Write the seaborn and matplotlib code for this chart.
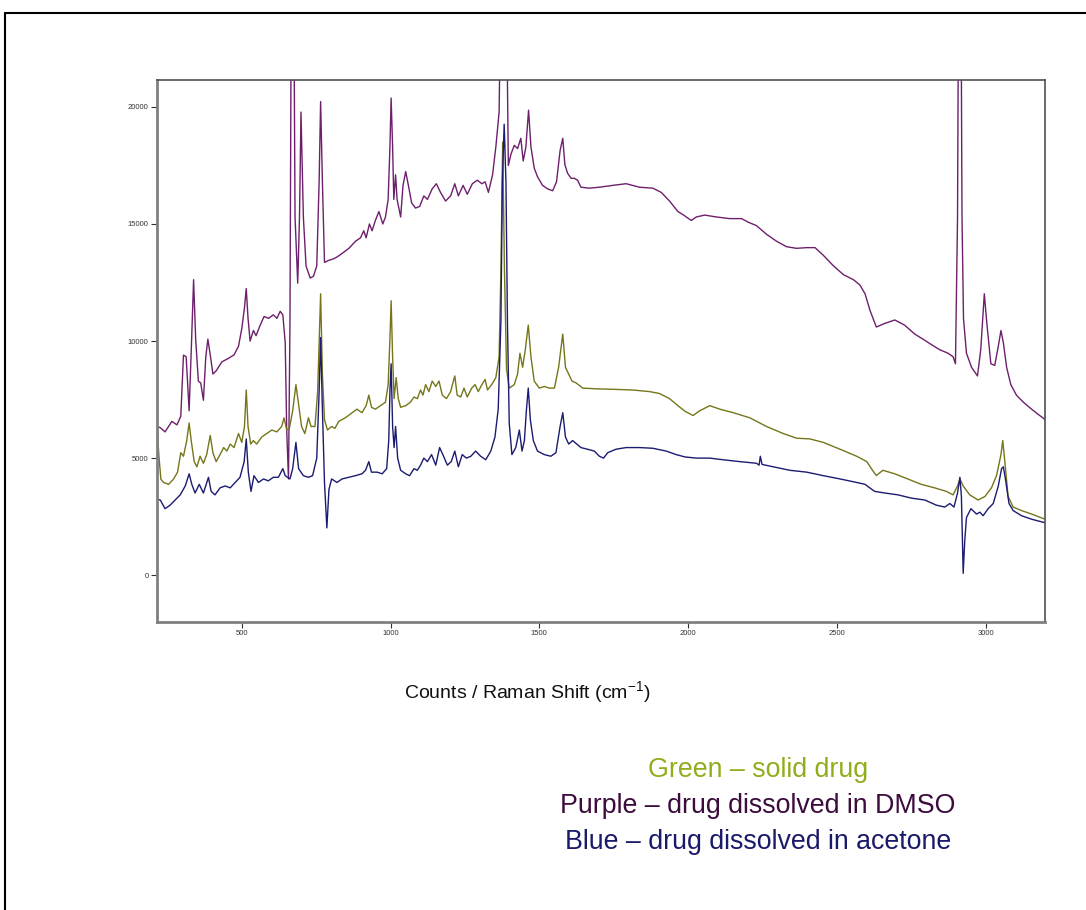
import numpy as np
import pandas as pd
import matplotlib
matplotlib.use("Agg")
import matplotlib.pyplot as plt
from matplotlib.lines import Line2D
import seaborn as sns

# ---------------- data ----------------
purple_x = [215, 226, 242, 265, 282, 295, 304, 313, 323, 331, 338, 345, 354, 362, 371, 379, 386, 394, 403, 414,
            433, 455, 474, 489, 500, 509, 515, 521, 528, 539, 548, 562, 575, 590, 606, 618, 629, 638, 646, 651,
            657, 662, 667, 674, 679, 688, 694, 699, 707, 716, 730, 741, 752, 760, 765, 771, 778, 791, 808, 820,
            837, 860, 882, 899, 910, 918, 929, 938, 949, 961, 974, 983, 992, 998, 1002, 1007, 1011, 1017, 1022, 1034,
            1042, 1051, 1060, 1071, 1084, 1098, 1112, 1124, 1140, 1154, 1168, 1185, 1202, 1216, 1228, 1244, 1258, 1275, 1292, 1307,
            1318, 1329, 1343, 1354, 1365, 1373, 1388, 1396, 1405, 1416, 1427, 1438, 1446, 1455, 1464, 1472, 1483, 1494, 1511, 1528,
            1545, 1558, 1570, 1579, 1586, 1595, 1607, 1618, 1629, 1640, 1668, 1702, 1747, 1792, 1837, 1882, 1910, 1938, 1966, 1983,
            2011, 2028, 2056, 2095, 2140, 2180, 2202, 2230, 2264, 2298, 2331, 2365, 2399, 2427, 2455, 2489, 2522, 2556, 2578, 2595,
            2612, 2633, 2661, 2695, 2728, 2762, 2790, 2818, 2846, 2874, 2891, 2899, 2906, 2910, 2917, 2921, 2926, 2936, 2953, 2973,
            2984, 2996, 3004, 3018, 3031, 3043, 3052, 3060, 3071, 3085, 3104, 3127, 3155, 3177, 3200]
purple_y = [6350, 6300, 6120, 6570, 6420, 6790, 9400, 9330, 7020, 9930, 12620, 10080, 8290, 8210, 7470, 9330, 10080, 9410, 8590, 8730,
            9110, 9260, 9410, 9780, 10530, 11420, 12240, 10970, 10000, 10450, 10230, 10680, 11050, 10970, 11120, 10970, 11270, 11120, 9930, 6200,
            4110, 10820, 27000, 27000, 15300, 12470, 15300, 19780, 15300, 13210, 12690, 12770, 13210, 16800, 20230, 16800, 13360, 13440, 13510, 13590,
            13740, 13960, 14260, 14410, 14710, 14410, 15000, 14710, 15150, 15530, 15000, 15300, 16050, 18290, 20380, 18290, 16050, 17100, 16050, 15300,
            16650, 17240, 16650, 15900, 15680, 15750, 16200, 16050, 16500, 16720, 16350, 15980, 16200, 16720, 16200, 16650, 16270, 16720, 16870, 16720,
            16800, 16350, 17100, 18290, 19780, 27000, 27000, 17500, 17990, 18360, 18220, 18660, 17690, 18290, 19860, 18290, 17390, 17020, 16650, 16500,
            16420, 16800, 18140, 18660, 17540, 17170, 16950, 16950, 16870, 16570, 16530, 16570, 16650, 16720, 16570, 16530, 16350, 15980, 15530, 15400,
            15150, 15300, 15380, 15300, 15230, 15230, 15080, 14930, 14560, 14260, 14030, 13960, 13990, 13990, 13660, 13210, 12840, 12620, 12390, 12020,
            11300, 10600, 10750, 10900, 10680, 10300, 10080, 9850, 9630, 9480, 9330, 9030, 15300, 27000, 27000, 15300, 10970, 9480, 8880, 8510,
            9630, 12020, 10820, 9030, 8960, 9780, 10450, 9930, 8880, 8140, 7690, 7390, 7090, 6870, 6650]

green_x = [215, 222, 228, 237, 254, 271, 284, 295, 304, 315, 323, 330, 340, 349, 360, 371, 382, 394, 403, 414,
           427, 439, 450, 461, 474, 489, 500, 509, 515, 521, 530, 539, 550, 567, 584, 601, 618, 634, 642, 651,
           660, 671, 682, 690, 701, 712, 724, 733, 746, 755, 765, 771, 778, 788, 802, 813, 826, 848, 871, 887,
           904, 918, 927, 936, 949, 966, 983, 992, 998, 1002, 1007, 1012, 1019, 1026, 1034, 1051, 1067, 1079, 1090, 1101,
           1109, 1118, 1129, 1140, 1152, 1163, 1174, 1188, 1202, 1216, 1224, 1236, 1247, 1258, 1273, 1284, 1295, 1307, 1318, 1326,
           1340, 1354, 1365, 1371, 1377, 1383, 1390, 1399, 1416, 1427, 1435, 1444, 1453, 1463, 1472, 1483, 1500, 1517, 1534, 1551,
           1565, 1579, 1588, 1599, 1610, 1624, 1646, 1691, 1747, 1814, 1871, 1904, 1938, 1966, 1990, 2017, 2039, 2073, 2107, 2152,
           2208, 2264, 2320, 2365, 2410, 2455, 2511, 2567, 2601, 2618, 2633, 2655, 2695, 2739, 2784, 2829, 2868, 2891, 2906, 2914,
           2925, 2947, 2975, 2998, 3020, 3037, 3052, 3058, 3065, 3076, 3093, 3121, 3155, 3200]
green_y = [6300, 5000, 4100, 3960, 3880, 4110, 4400, 5230, 5080, 5750, 6500, 5750, 4850, 4630, 5080, 4780, 5150, 5970, 5230, 4850,
           5150, 5450, 5300, 5600, 5450, 6050, 5670, 6350, 7910, 6350, 5600, 5750, 5600, 5900, 6050, 6200, 6120, 6350, 6720, 6200,
           6270, 7020, 8140, 7390, 6350, 6050, 6720, 6350, 6350, 7840, 12020, 8590, 6640, 6200, 6350, 6270, 6570, 6720, 6940, 7090,
           6940, 7240, 7690, 7170, 7090, 7240, 7390, 8140, 10080, 11720, 9330, 7540, 8440, 7540, 7170, 7240, 7390, 7610, 7540, 7910,
           7690, 8140, 7840, 8290, 8060, 8290, 7690, 7540, 7840, 8510, 7690, 7610, 7990, 7610, 7990, 8140, 7840, 8140, 8360, 7910,
           8140, 8440, 9330, 13000, 18500, 13000, 8800, 7990, 8140, 8590, 9480, 8880, 9630, 10680, 9330, 8290, 7990, 8060, 7990, 7990,
           8880, 10300, 8880, 8590, 8290, 8210, 7990, 7960, 7940, 7910, 7840, 7760, 7540, 7240, 7000, 6820, 7020, 7240, 7090, 6940,
           6720, 6350, 6050, 5850, 5820, 5670, 5380, 5080, 4850, 4520, 4255, 4480, 4330, 4110, 3880, 3730, 3580, 3430, 3810, 4110,
           3810, 3430, 3210, 3360, 3730, 4250, 5150, 5750, 4850, 3360, 2910, 2760, 2610, 2390]

blue_x = [215, 226, 242, 259, 276, 293, 310, 323, 332, 343, 357, 371, 388, 397, 410, 427, 444, 461, 478, 494,
          508, 515, 522, 531, 541, 556, 573, 589, 606, 623, 638, 646, 654, 662, 671, 682, 691, 707, 724, 738,
          752, 760, 765, 771, 778, 786, 793, 802, 820, 837, 860, 882, 904, 916, 927, 936, 955, 972, 987, 994,
          998, 1002, 1007, 1012, 1017, 1024, 1034, 1051, 1064, 1079, 1090, 1101, 1112, 1124, 1138, 1152, 1165, 1176, 1191, 1204,
          1216, 1228, 1241, 1255, 1270, 1286, 1303, 1320, 1337, 1351, 1362, 1371, 1376, 1382, 1388, 1393, 1399, 1408, 1421, 1433,
          1442, 1450, 1457, 1463, 1470, 1480, 1494, 1517, 1539, 1556, 1570, 1579, 1588, 1599, 1612, 1626, 1640, 1662, 1685, 1702,
          1716, 1730, 1758, 1792, 1837, 1882, 1927, 1960, 1990, 2028, 2073, 2118, 2174, 2230, 2239, 2243, 2249, 2286, 2342, 2399,
          2455, 2511, 2567, 2595, 2627, 2661, 2706, 2751, 2796, 2835, 2863, 2880, 2894, 2906, 2914, 2919, 2925, 2930, 2936, 2951,
          2970, 2981, 2992, 3009, 3026, 3043, 3054, 3060, 3067, 3079, 3093, 3121, 3155, 3200]
blue_y = [3250, 3210, 2840, 2990, 3210, 3430, 3810, 4330, 3880, 3510, 3880, 3510, 4180, 3580, 3430, 3730, 3810, 3730, 3960, 4180,
          4850, 5820, 4400, 3580, 4250, 3960, 4110, 4030, 4180, 4180, 4550, 4250, 4180, 4110, 4550, 5670, 4550, 4250, 4180, 4250,
          5000, 7840, 10150, 7090, 3960, 2020, 3660, 4110, 3960, 4110, 4180, 4250, 4330, 4480, 4850, 4400, 4400, 4330, 4550, 5750,
          7840, 9030, 6350, 5450, 6350, 5000, 4480, 4330, 4250, 4550, 4480, 4700, 5000, 4850, 5150, 4700, 5450, 5150, 4700, 4850,
          5300, 4630, 5150, 5000, 5080, 5300, 5080, 4930, 5300, 5900, 7090, 10820, 16800, 19260, 16800, 10820, 6500, 5150, 5450, 6200,
          5300, 5750, 7090, 7990, 6640, 5750, 5300, 5150, 5080, 5230, 6350, 6940, 5900, 5600, 5750, 5600, 5450, 5380, 5300, 5080,
          5000, 5230, 5380, 5450, 5450, 5420, 5300, 5150, 5050, 5000, 5000, 4930, 4850, 4780, 4700, 5080, 4730, 4630, 4480, 4400,
          4250, 4110, 3960, 3880, 3580, 3510, 3430, 3290, 3210, 2990, 2910, 3060, 2910, 3510, 4180, 3360, 80, 1420, 2460, 2840,
          2610, 2690, 2540, 2840, 3060, 3810, 4550, 4630, 4110, 3060, 2760, 2540, 2390, 2240]

series_names = ["Green \u2013 solid drug",
                "Purple \u2013 drug dissolved in DMSO",
                "Blue \u2013 drug dissolved in acetone"]
y_ticks = [0, 5000, 10000, 15000, 20000]
x_ticks = [500, 1000, 1500, 2000, 2500, 3000]
x_label = "Counts / Raman Shift (cm$^{-1}$)"

line_colors = ["#75751a", "#6e1f6c", "#1b1b72"]
text_colors = ["#8fae1b", "#3c0c3c", "#1a1a6a"]

# ---------------- build table ----------------
frames = []
for name, xs, ys in [(series_names[1], purple_x, purple_y),
                     (series_names[0], green_x, green_y),
                     (series_names[2], blue_x, blue_y)]:
    frames.append(pd.DataFrame({"shift": xs, "counts": ys, "series": name}))
df = pd.concat(frames, ignore_index=True)

sns.set_theme(style="white")
plt.rcParams["font.family"] = ["Liberation Sans", "DejaVu Sans"]
plt.rcParams["mathtext.fontset"] = "custom"
plt.rcParams["mathtext.rm"] = "Liberation Sans"
plt.rcParams["mathtext.it"] = "Liberation Sans"

fig = plt.figure(figsize=(10.86, 9.10), dpi=100)
fig.patch.set_facecolor("white")
ax = fig.add_axes([157 / 1086, 1 - 622 / 910, (1045 - 157) / 1086, (622 - 80) / 910])

palette = {series_names[0]: line_colors[0],
           series_names[1]: line_colors[1],
           series_names[2]: line_colors[2]}
sns.lineplot(data=df, x="shift", y="counts", hue="series", palette=palette,
             estimator=None, sort=False, linewidth=1.0, legend=False, ax=ax)

ax.set_xlim(215, 3200)
ax.set_ylim(-2000, 21150)
ax.set_xticks(x_ticks)
ax.set_yticks(y_ticks)
ax.set_xticklabels([str(v) for v in x_ticks])
ax.set_yticklabels([str(v) for v in y_ticks])
ax.tick_params(axis="both", which="major", labelsize=5.5, colors="#333333",
               length=4, width=0.8, direction="out", bottom=True, left=True, pad=2)
ax.set_xlabel("")
ax.set_ylabel("")
for side in ["left", "bottom"]:
    ax.spines[side].set_color("#808080")
    ax.spines[side].set_linewidth(2.0)
for side in ["top", "right"]:
    ax.spines[side].set_color("#505050")
    ax.spines[side].set_linewidth(1.2)
ax.set_facecolor("white")

# axis label text
fig.text(527 / 1086, 1 - 692 / 910, x_label, ha="center", va="center",
         fontsize=14, color="#111111")

# colour key text
for i, (txt, col) in enumerate(zip(series_names, text_colors)):
    fig.text(758 / 1086, 1 - (770 + 36 * i) / 910, txt, ha="center", va="center",
             fontsize=19.3, color=col)

# outer frame (left and top edges)
fig.add_artist(Line2D([5 / 1086, 5 / 1086], [0, 1 - 13 / 910], transform=fig.transFigure,
                      color="black", linewidth=1.5))
fig.add_artist(Line2D([5 / 1086, 1], [1 - 13 / 910, 1 - 13 / 910], transform=fig.transFigure,
                      color="black", linewidth=1.5))

fig.savefig("out.png", dpi=100, facecolor="white")
